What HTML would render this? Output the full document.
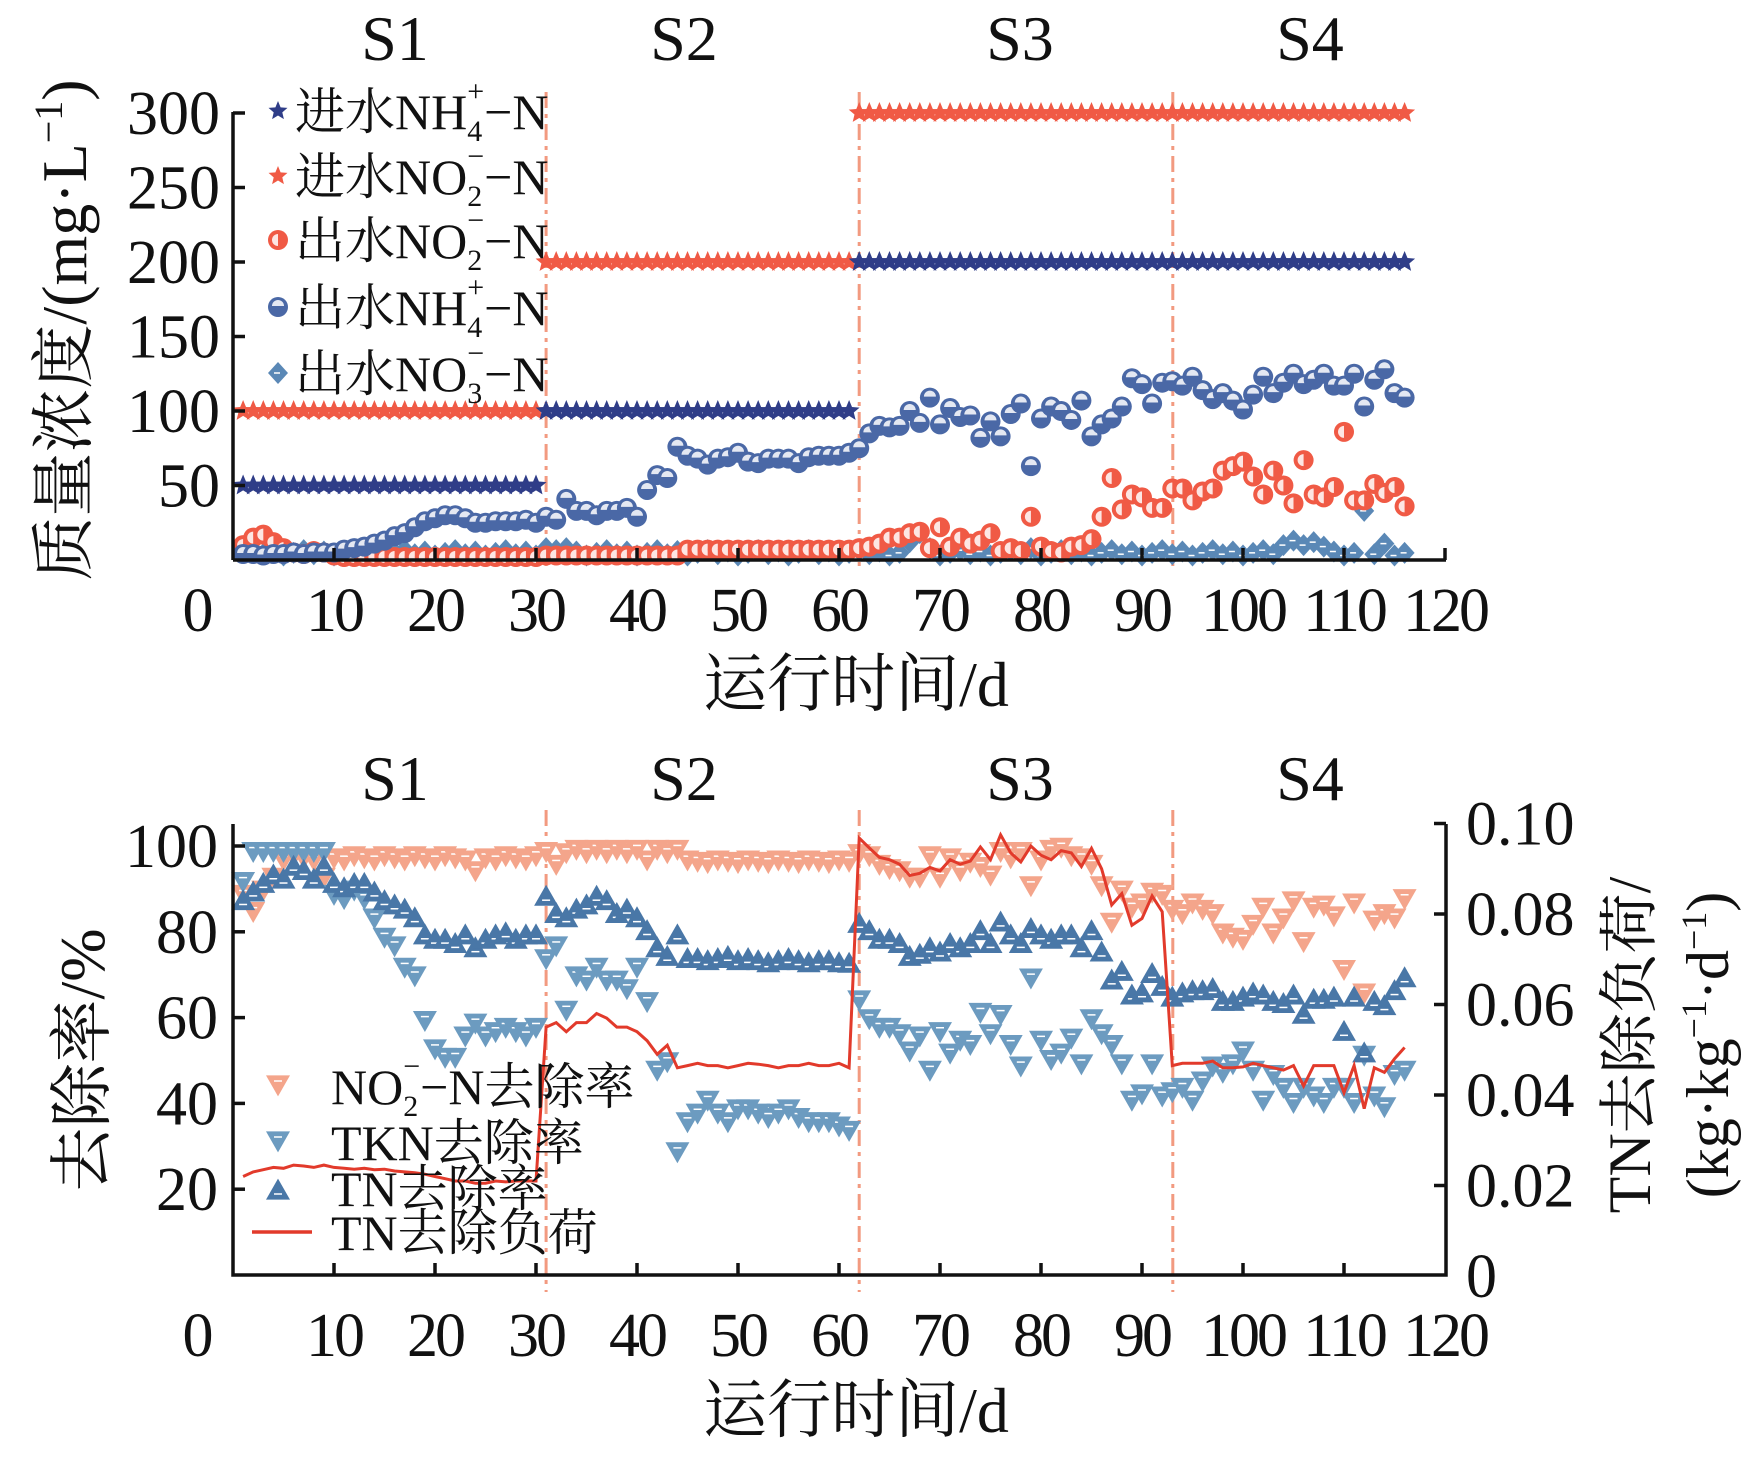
<!DOCTYPE html>
<html><head><meta charset="utf-8">
<style>
html,body{margin:0;padding:0;background:#fff;}
svg{display:block;}
text{font-family:"Liberation Serif","Noto Serif CJK SC",serif;fill:#111;}
</style></head>
<body>
<svg id="s" width="1743" height="1462" viewBox="0 0 1743 1462" xmlns="http://www.w3.org/2000/svg"></svg>
<script>
var X=function(d){return 233+10.1*d;};
var Yt=function(v){return 560-v*1.49;};
var Yb=function(p){return 1275-p*4.29;};
var Yr=function(l){return 1276-l*4525;};
var o=[];
function star(cx,cy,r,f){var p=[];for(var i=0;i<10;i++){var a=-Math.PI/2+i*Math.PI/5,rr=i%2?r*0.45:r;p.push((cx+rr*Math.cos(a)).toFixed(1)+','+(cy+rr*Math.sin(a)).toFixed(1));}o.push('<polygon points="'+p.join(' ')+'" fill="'+f+'"/>');}
function hc(cx,cy,f){o.push('<circle cx="'+cx+'" cy="'+cy+'" r="10" fill="'+f+'"/><path d="M'+(cx-6)+' '+(cy-1)+'A6 6 0 0 1 '+(cx+6)+' '+(cy-1)+'Z" fill="#fff" opacity="0.85"/>');}
function hcr(cx,cy,f){o.push('<circle cx="'+cx+'" cy="'+cy+'" r="10" fill="'+f+'"/><path d="M'+(cx)+' '+(cy-6)+'A6 6 0 0 0 '+(cx)+' '+(cy+6)+'Z" fill="#fff" opacity="0.85"/>');}
function dia(cx,cy,f){o.push('<polygon points="'+cx+','+(cy-11)+' '+(cx+10)+','+cy+' '+cx+','+(cy+11)+' '+(cx-10)+','+cy+'" fill="'+f+'"/><line x1="'+(cx-4)+'" y1="'+cy+'" x2="'+(cx+2)+'" y2="'+cy+'" stroke="#fff" stroke-width="1.5"/>');}
function tri(cx,cy,f,down){var s=12;var pts=down?[(cx-s)+','+(cy-s*0.8),(cx+s)+','+(cy-s*0.8),cx+','+(cy+s*0.95)]:[(cx-s)+','+(cy+s*0.8),(cx+s)+','+(cy+s*0.8),cx+','+(cy-s*0.95)];o.push('<polygon points="'+pts.join(' ')+'" fill="'+f+'"/><line x1="'+(cx-4)+'" y1="'+(down?cy-4:cy+4)+'" x2="'+(cx+4)+'" y2="'+(down?cy-4:cy+4)+'" stroke="#fff" stroke-width="1.5"/>');}
var days=[];for(var d=1;d<=116;d++)days.push(d);
var FT=62, FTT=64;
// ---------- TOP PLOT ----------
var NAVY='#2f3d88',ORG='#f05a45',BLU='#4a68a6',DIA='#5a88b6';
[31,62,93.05].forEach(function(d){o.push('<line x1="'+X(d)+'" y1="92" x2="'+X(d)+'" y2="572" stroke="#f29a80" stroke-width="3" stroke-dasharray="16,6,4,6"/>');});
days.forEach(function(d){var nh=d<=30?50:(d<=61?100:200);var no=d<=30?100:(d<=61?200:300);star(X(d),Yt(no),11,ORG);star(X(d),Yt(nh),11,NAVY);});
var no3={67:12,68:18,69:8,79:8,104:10,105:13,106:10,107:12,108:9,112:33,114:11,31:8,33:8,44:6};
days.forEach(function(d){var v=no3[d]!==undefined?no3[d]:(3+((d*7)%5)*0.9);dia(X(d),Yt(v),DIA);});
var no2e={1:10,2:15,3:17,4:12,5:8,6:5,7:4,8:6,9:5,10:3,62:8,63:9,64:11,65:15,66:15,67:18,68:19,69:8,70:22,71:9,72:15,73:11,74:13,75:18,76:6,77:8,78:6,79:29,80:9,81:6,82:5,83:9,84:10,85:14,86:29,87:55,88:34,89:44,90:42,91:35,92:35,93:48,94:48,95:40,96:46,97:48,98:60,99:63,100:66,101:56,102:44,103:60,104:50,105:38,106:67,107:44,108:42,109:49,110:86,111:40,112:40,113:51,114:45,115:49,116:36};
days.forEach(function(d){var v=no2e[d]!==undefined?no2e[d]:(d<=30?2:(d<=44?3:7));hcr(X(d),Yt(v),ORG);});
var nh={1:4,2:4,3:3,4:4,5:4,6:5,7:4,8:5,9:5,10:5,11:7,12:8,13:9,14:11,15:13,16:16,17:18,18:22,19:26,20:28,21:30,22:30,23:28,24:25,25:25,26:26,27:26,28:26,29:27,30:25,31:29,32:27,33:41,34:33,35:33,36:30,37:33,38:33,39:35,40:29,41:47,42:57,43:55,44:76,45:70,46:68,47:64,48:68,49:69,50:72,51:66,52:65,53:68,54:68,55:68,56:65,57:69,58:70,59:70,60:70,61:72,62:75,63:85,64:90,65:89,66:90,67:100,68:92,69:109,70:91,71:102,72:96,73:97,74:82,75:93,76:83,77:98,78:105,79:63,80:95,81:103,82:100,83:94,84:107,85:83,86:91,87:95,88:103,89:122,90:118,91:105,92:119,93:120,94:117,95:123,96:114,97:108,98:112,99:107,100:101,101:111,102:123,103:112,104:119,105:125,106:118,107:121,108:125,109:117,110:117,111:125,112:103,113:121,114:128,115:112,116:109};
days.forEach(function(d){hc(X(d),Yt(nh[d]),BLU);});
o.push('<path d="M233 560H1446 M233 560V112" stroke="#111" stroke-width="3.5" fill="none"/>');
[50,100,150,200,250,300].forEach(function(v){o.push('<line x1="233" y1="'+Yt(v)+'" x2="245" y2="'+Yt(v)+'" stroke="#111" stroke-width="3.5"/>');o.push('<text x="220" y="'+(Yt(v)+21)+'" font-size="'+FT+'" text-anchor="end">'+v+'</text>');});
for(var t=10;t<=120;t+=10){o.push('<line x1="'+X(t)+'" y1="560" x2="'+X(t)+'" y2="548" stroke="#111" stroke-width="3.5"/>');}
function xlabels(y){o.push('<text x="198" y="'+y+'" font-size="'+FT+'" text-anchor="middle">0</text>');for(var t=10;t<=120;t+=10){o.push('<text x="'+X(t)+'" y="'+y+'" font-size="'+FT+'" text-anchor="middle" letter-spacing="-3">'+t+'</text>');}}
xlabels(631);
o.push('<text x="856" y="706" font-size="'+FTT+'" text-anchor="middle">运行时间/d</text>');
function S(y){[['S1',395],['S2',684],['S3',1020],['S4',1310]].forEach(function(s){o.push('<text x="'+s[1]+'" y="'+y+'" font-size="'+FTT+'" text-anchor="middle">'+s[0]+'</text>');});}
S(60);
o.push('<text transform="translate(86,330) rotate(-90)" font-size="'+FTT+'" text-anchor="middle">质量浓度/(mg·L<tspan dy="-24" font-size="40">−1</tspan><tspan dy="24">)</tspan></text>');
var lg=[['进水NH','4','+',0,'star',NAVY],['进水NO','2','−',0,'star',ORG],['出水NO','2','−',0,'hcr',ORG],['出水NH','4','+',0,'hc',BLU],['出水NO','3','−',0,'dia',DIA]];
var ly=[111,176,240,307,373];
lg.forEach(function(l,i){var y=ly[i];if(l[4]=='star')star(278,y,10,l[5]);else if(l[4]=='hc')hc(278,y,l[5]);else if(l[4]=='hcr')hcr(278,y,l[5]);else dia(278,y,l[5]);
o.push('<text x="295" y="'+(y+18)+'" font-size="50">'+l[0]+'<tspan font-size="30" dy="12">'+l[1]+'</tspan><tspan font-size="30" dx="-15" dy="-40">'+l[2]+'</tspan><tspan dy="28">−N</tspan></text>');});
// ---------- BOTTOM PLOT ----------
var SAL='#f4a58b',TKN='#6c9bc0',TN='#4977a7',RED='#e23a2b';
[31,62,93.05].forEach(function(d){o.push('<line x1="'+X(d)+'" y1="810" x2="'+X(d)+'" y2="1292" stroke="#f29a80" stroke-width="3" stroke-dasharray="16,6,4,6"/>');});
var no2r={1:88,2:84,3:89,4:92,5:96,9:92,24:93.5,31:98,32:95,41:96};
var s3no2=[97.5,97,95,94,93.5,92,92,97,92,96.5,93.5,95.5,94.5,92.5,98,96.5,98,90,96,98.5,99,97,96.5,95,90,81.5,89,85,86,88.5,88,84.5,83.5,86,84.5,83.5,79,78,77.5,81,85,79,82.5,86.5,77,85,85.5,83,70.5,86,65,82,83.5,82.5,87];
var tknS=[91,98,98,98,98,98,98,98,98,88,87,89,87,82.5,78,76,71,69,58.6,52,50,50,55,58,55,56,57,56,55,57,73,76,61,69,68,71,68,68,66,71,63,47,49,28,35,37,40,37,35,38,38,37,36,37,38,36,35,35,35,34,33,
63.4,59,57,57,55.5,51.5,55,47,56,51,54,53,60.5,55.5,60,53,48,68.5,54,49.5,51,54.5,48.5,59,55.5,53,48.5,40,41.5,48.5,41,42,43,40,44.5,48,46.5,48.5,51.5,47,40,46,43,39.5,43,41,39.5,43,43,39.5,50.5,41,38.5,46,47];
var tnS=[88,90,92,94,93,96,95,93,96,92,91,92,92,90,88,87,86,84,80,79,79,78,80,77,79,80,80.5,79,80,80,89,85,84,86,87,89,88,85,86,84,81,77,75,80,74.5,74.5,74,74.5,75,74,74.5,74,73.5,74,74.5,74,73.5,74,74,73.5,73.4,
82.7,81,79,79,78,75,75.5,77,76,78,77,78,81,78,83,80,78,81.5,80,79,80,80,77,81,76,69.5,71.5,66,66.5,71,68,65.5,66.5,67,67,67.5,64.5,64.5,65.5,66.5,66,64.5,64,66,61.5,65,65,65.5,57.5,65.5,52.5,64.5,63.5,67,70];
days.forEach(function(d){var v;if(d>=62)v=s3no2[d-62];else if(no2r[d]!==undefined)v=no2r[d];else if(d<=30)v=(d<5?95:97)-(d%3)*0.5;else if(d<=44)v=98.5-(d%2)*0.8;else v=96-(d%3)*0.3;tri(X(d),Yb(v)-3,SAL,true);});
days.forEach(function(d){tri(X(d),Yb(tknS[d-1])-3,TKN,true);});
days.forEach(function(d){tri(X(d),Yb(tnS[d-1])+3,TN,false);});
var load=[0.022,0.023,0.0235,0.024,0.0238,0.0245,0.0243,0.024,0.0245,0.024,0.0238,0.0236,0.0238,0.0235,0.0236,0.0232,0.023,0.0228,0.0225,0.022,0.0215,0.021,0.021,0.0205,0.0205,0.021,0.0208,0.021,0.021,0.021,
0.055,0.056,0.054,0.056,0.056,0.058,0.057,0.055,0.055,0.054,0.052,0.049,0.051,0.046,0.0465,0.047,0.0465,0.0465,0.046,0.0465,0.047,0.0468,0.0465,0.046,0.0465,0.0465,0.047,0.0465,0.0465,0.047,0.046,
0.0968,0.0946,0.0925,0.092,0.091,0.0885,0.089,0.0903,0.0895,0.092,0.091,0.0917,0.0948,0.092,0.0975,0.0935,0.0915,0.095,0.093,0.092,0.094,0.0935,0.0905,0.0945,0.09,0.082,0.0845,0.0775,0.079,0.084,0.0805,
0.0465,0.047,0.047,0.047,0.0475,0.046,0.046,0.0462,0.047,0.0465,0.046,0.0455,0.0465,0.042,0.0465,0.0465,0.0465,0.0405,0.0465,0.037,0.046,0.045,0.048,0.0505];
var pts=days.map(function(d){return X(d).toFixed(1)+','+Yr(load[d-1]).toFixed(1);});
o.push('<polyline points="'+pts.join(' ')+'" fill="none" stroke="'+RED+'" stroke-width="3"/>');
o.push('<path d="M233 824V1275H1446V824" stroke="#111" stroke-width="3.5" fill="none"/>');
[20,40,60,80,100].forEach(function(v){o.push('<line x1="233" y1="'+Yb(v)+'" x2="245" y2="'+Yb(v)+'" stroke="#111" stroke-width="3.5"/>');o.push('<text x="218" y="'+(Yb(v)+21)+'" font-size="'+FT+'" text-anchor="end">'+v+'</text>');});
[[0.02,'0.02'],[0.04,'0.04'],[0.06,'0.06'],[0.08,'0.08'],[0.1,'0.10'],[0,'0']].forEach(function(r){var y=Yr(r[0]);if(r[0]>0)o.push('<line x1="1434" y1="'+y+'" x2="1446" y2="'+y+'" stroke="#111" stroke-width="3.5"/>');o.push('<text x="1466" y="'+(y+21)+'" font-size="'+FT+'">'+r[1]+'</text>');});
for(var t=10;t<=110;t+=10){o.push('<line x1="'+X(t)+'" y1="1275" x2="'+X(t)+'" y2="1263" stroke="#111" stroke-width="3.5"/>');}
xlabels(1356);
o.push('<text x="856" y="1432" font-size="'+FTT+'" text-anchor="middle">运行时间/d</text>');
S(800);
o.push('<text transform="translate(104,1060) rotate(-90)" font-size="'+FTT+'" text-anchor="middle">去除率/%</text>');
o.push('<text transform="translate(1650,1045) rotate(-90)" font-size="60" text-anchor="middle">TN去除负荷/</text>');
o.push('<text transform="translate(1728,1045) rotate(-90)" font-size="60" text-anchor="middle">(kg·kg<tspan dy="-22" font-size="36">−1</tspan><tspan dy="22">·d</tspan><tspan dy="-22" font-size="36">−1</tspan><tspan dy="22">)</tspan></text>');
tri(278,1085,SAL,true);tri(278,1141,TKN,true);tri(278,1190,TN,false);
o.push('<line x1="252" y1="1232" x2="312" y2="1232" stroke="'+RED+'" stroke-width="3.5"/>');
o.push('<text x="331" y="1104" font-size="50">NO<tspan font-size="30" dy="12">2</tspan><tspan font-size="30" dx="-15" dy="-40">−</tspan><tspan dy="28">−N去除率</tspan></text>');
o.push('<text x="331" y="1160" font-size="50">TKN去除率</text>');
o.push('<text x="331" y="1206" font-size="50">TN去除率</text>');
o.push('<text x="331" y="1250" font-size="50">TN去除负荷</text>');
document.getElementById('s').innerHTML=o.join('');
</script>
</body></html>
